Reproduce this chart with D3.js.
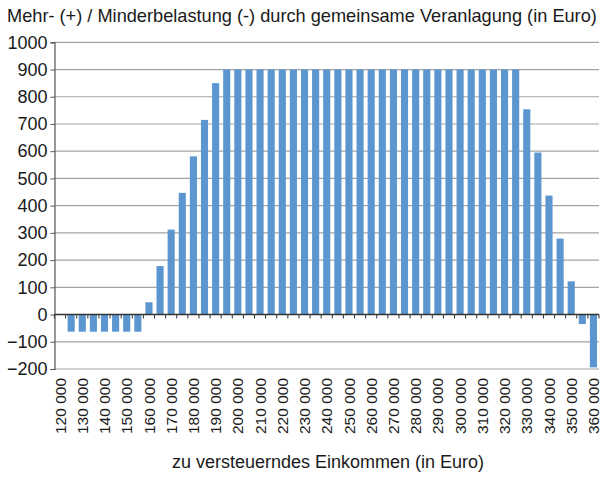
<!DOCTYPE html>
<html>
<head>
<meta charset="utf-8">
<script src="https://cdn.jsdelivr.net/npm/d3@7/dist/d3.min.js"></script>
<style>
  html, body { margin: 0; padding: 0; background: #fff; }
  svg { display: block; font-family: "Liberation Sans", Arial, Helvetica, sans-serif; }
</style>
</head>
<body>
<svg id="chart" width="602" height="477"></svg>
<script>
// Taxable income (Euro), one category per 5 000
const incomes = [
  120000, 125000, 130000, 135000, 140000, 145000, 150000, 155000, 160000, 165000,
  170000, 175000, 180000, 185000, 190000, 195000, 200000, 205000, 210000, 215000,
  220000, 225000, 230000, 235000, 240000, 245000, 250000, 255000, 260000, 265000,
  270000, 275000, 280000, 285000, 290000, 295000, 300000, 305000, 310000, 315000,
  320000, 325000, 330000, 335000, 340000, 345000, 350000, 355000, 360000
];

// Additional (+) / reduced (-) tax burden from joint assessment (Euro)
const burden = [
  0, -63, -63, -63, -63, -63, -63, -63, 45, 178,
  312, 447, 581, 715, 850, 900, 900, 900, 900, 900,
  900, 900, 900, 900, 900, 900, 900, 900, 900, 900,
  900, 900, 900, 900, 900, 900, 900, 900, 900, 900,
  900, 900, 754, 595, 437, 279, 122, -35, -194
];

// Labelled incomes on the category axis
const xTickLabels = [
  120000, 130000, 140000, 150000, 160000, 170000, 180000, 190000, 200000, 210000,
  220000, 230000, 240000, 250000, 260000, 270000, 280000, 290000, 300000, 310000,
  320000, 330000, 340000, 350000, 360000
];

const yTicks = [-200, -100, 0, 100, 200, 300, 400, 500, 600, 700, 800, 900, 1000];

const titleText = "Mehr- (+) / Minderbelastung (-) durch gemeinsame Veranlagung (in Euro)";
const xTitleText = "zu versteuerndes Einkommen (in Euro)";

const svg = d3.select("#chart");

const plot = { left: 54.5, right: 599, top: 42.3, bottom: 369 };

const x = d3.scaleBand()
  .domain(incomes)
  .range([plot.left, plot.right])
  .paddingInner(0.36)
  .paddingOuter(0.18);

const y = d3.scaleLinear()
  .domain([-200, 1000])
  .range([plot.bottom, plot.top]);

const fmt = v => d3.format(",")(v).replace(/,/g, " ");

// Horizontal gridlines
svg.append("g")
  .selectAll("line")
  .data(yTicks.filter(v => v !== 0))
  .join("line")
  .attr("x1", plot.left)
  .attr("x2", plot.right)
  .attr("y1", d => y(d))
  .attr("y2", d => y(d))
  .attr("stroke", "#a3a3a3")
  .attr("stroke-width", 1.2);

// Bars
svg.append("g")
  .selectAll("rect")
  .data(incomes.map((inc, i) => ({ inc, val: burden[i] })))
  .join("rect")
  .attr("x", d => x(d.inc))
  .attr("width", x.bandwidth())
  .attr("y", d => y(Math.max(0, d.val)))
  .attr("height", d => Math.abs(y(d.val) - y(0)))
  .attr("fill", "#5b96d1");

// Value axis
const yAxis = d3.axisLeft(y)
  .tickValues(yTicks)
  .tickSize(4)
  .tickPadding(3)
  .tickFormat(d3.format("d"));

const gy = svg.append("g")
  .attr("transform", `translate(${plot.left},0)`)
  .call(yAxis);
gy.select(".domain").attr("stroke", "#555").attr("stroke-width", 1.2);
gy.selectAll(".tick line").attr("stroke", "#555");
gy.selectAll(".tick text")
  .attr("font-size", 18)
  .attr("fill", "#1a1a1a")
  .attr("font-family", "'Liberation Sans', Arial, sans-serif");

// Category axis at zero with ticks on category boundaries
const step = x.step();
const boundaries = incomes.map(inc => x(inc) - x.paddingInner() * step / 2);
boundaries.push(plot.right);

const gx = svg.append("g");
gx.append("line")
  .attr("x1", plot.left)
  .attr("x2", plot.right)
  .attr("y1", y(0))
  .attr("y2", y(0))
  .attr("stroke", "#333")
  .attr("stroke-width", 1.4);
gx.selectAll("line.tick")
  .data(boundaries)
  .join("line")
  .attr("class", "tick")
  .attr("x1", d => d)
  .attr("x2", d => d)
  .attr("y1", y(0))
  .attr("y2", y(0) + 4)
  .attr("stroke", "#333")
  .attr("stroke-width", 1);

// Rotated income labels below the plot
svg.append("g")
  .selectAll("text")
  .data(xTickLabels)
  .join("text")
  .attr("transform", d => `translate(${x(d) + x.bandwidth() / 2},378) rotate(-90)`)
  .attr("text-anchor", "end")
  .attr("dy", "0.36em")
  .attr("font-size", 15.5)
  .attr("fill", "#1a1a1a")
  .text(d => fmt(d));

// Titles
svg.append("text")
  .attr("x", 7)
  .attr("y", 22)
  .attr("font-size", 18.2)
  .attr("fill", "#1a1a1a")
  .text(titleText);

svg.append("text")
  .attr("x", 328)
  .attr("y", 468)
  .attr("text-anchor", "middle")
  .attr("font-size", 18)
  .attr("fill", "#1a1a1a")
  .text(xTitleText);
</script>
</body>
</html>
